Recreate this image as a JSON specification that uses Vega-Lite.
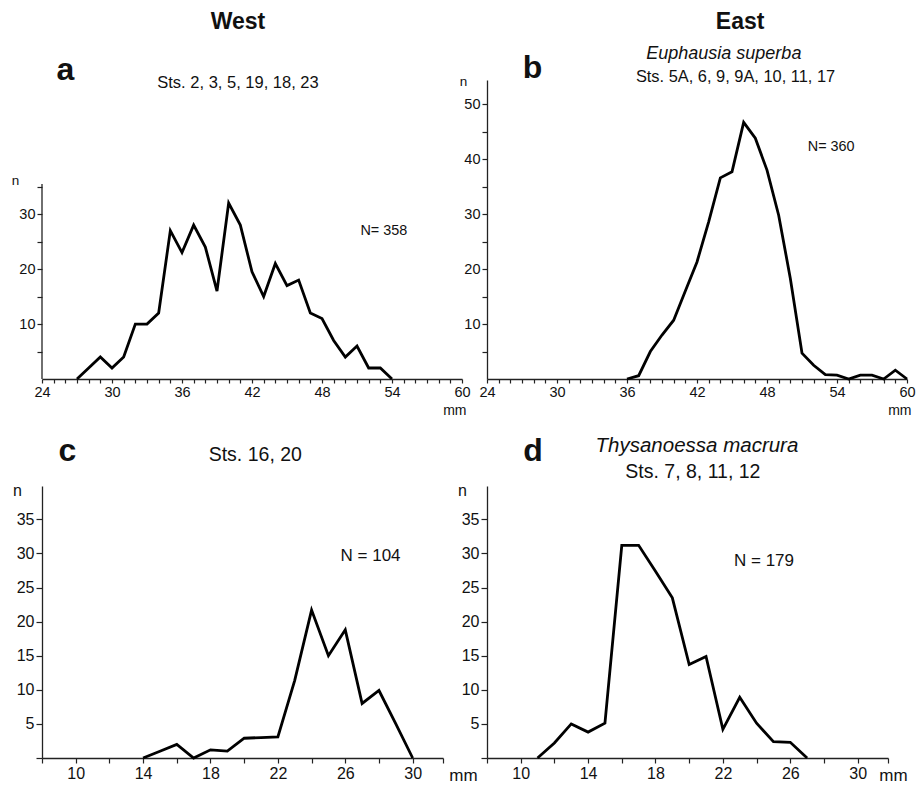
{
  "$schema": "https://vega.github.io/schema/vega-lite/v6.json",
  "autosize": {"type": "pad"},
  "padding": {"left": 11, "top": 10, "right": 0, "bottom": 0},
  "background": "white",
  "config": {
    "view": {"stroke": null},
    "axis": {
      "grid": false,
      "domainColor": "#222",
      "tickColor": "#222",
      "domainWidth": 1.3,
      "tickWidth": 1.2,
      "labelColor": "#111",
      "titleColor": "#111",
      "titleFontWeight": "normal",
      "labelFont": "Liberation Sans",
      "titleFont": "Liberation Sans"
    },
    "text": {"color": "#111", "font": "Liberation Sans"}
  },
  "datasets": {
    "a": [
      {"mm": 27, "n": 0}, {"mm": 28, "n": 2}, {"mm": 29, "n": 4}, {"mm": 30, "n": 2},
      {"mm": 31, "n": 4}, {"mm": 32, "n": 10}, {"mm": 33, "n": 10}, {"mm": 34, "n": 12},
      {"mm": 35, "n": 27}, {"mm": 36, "n": 23}, {"mm": 37, "n": 28}, {"mm": 38, "n": 24},
      {"mm": 39, "n": 16}, {"mm": 40, "n": 32}, {"mm": 41, "n": 28}, {"mm": 42, "n": 19.5},
      {"mm": 43, "n": 15}, {"mm": 44, "n": 21}, {"mm": 45, "n": 17}, {"mm": 46, "n": 18},
      {"mm": 47, "n": 12}, {"mm": 48, "n": 11}, {"mm": 49, "n": 7}, {"mm": 50, "n": 4},
      {"mm": 51, "n": 6}, {"mm": 52, "n": 2}, {"mm": 53, "n": 2}, {"mm": 54, "n": 0}
    ],
    "b": [
      {"mm": 36, "n": 0}, {"mm": 37, "n": 0.6}, {"mm": 38, "n": 5}, {"mm": 39, "n": 8},
      {"mm": 40, "n": 10.7}, {"mm": 41, "n": 16}, {"mm": 42, "n": 21.3}, {"mm": 43, "n": 28.6},
      {"mm": 44, "n": 36.6}, {"mm": 45, "n": 37.7}, {"mm": 46, "n": 46.7}, {"mm": 47, "n": 43.8},
      {"mm": 48, "n": 38}, {"mm": 49, "n": 29.8}, {"mm": 50, "n": 18.3}, {"mm": 51, "n": 4.7},
      {"mm": 52, "n": 2.5}, {"mm": 53, "n": 0.8}, {"mm": 54, "n": 0.7}, {"mm": 55, "n": 0},
      {"mm": 56, "n": 0.7}, {"mm": 57, "n": 0.7}, {"mm": 58, "n": 0}, {"mm": 59, "n": 1.6},
      {"mm": 60, "n": 0}
    ],
    "c": [
      {"mm": 14, "n": 0}, {"mm": 15, "n": 1}, {"mm": 16, "n": 2}, {"mm": 17, "n": 0},
      {"mm": 18, "n": 1.2}, {"mm": 19, "n": 1}, {"mm": 20, "n": 2.9}, {"mm": 21, "n": 3},
      {"mm": 22, "n": 3.1}, {"mm": 23, "n": 11.4}, {"mm": 24, "n": 21.7}, {"mm": 25, "n": 15},
      {"mm": 26, "n": 18.8}, {"mm": 27, "n": 8}, {"mm": 28, "n": 9.9}, {"mm": 29, "n": 5},
      {"mm": 30, "n": 0}
    ],
    "d": [
      {"mm": 11, "n": 0}, {"mm": 12, "n": 2.2}, {"mm": 13, "n": 5}, {"mm": 14, "n": 3.8},
      {"mm": 15, "n": 5.1}, {"mm": 16, "n": 31.2}, {"mm": 17, "n": 31.2}, {"mm": 18, "n": 27.4},
      {"mm": 19, "n": 23.5}, {"mm": 20, "n": 13.7}, {"mm": 21, "n": 14.9}, {"mm": 22, "n": 4.2},
      {"mm": 23, "n": 8.9}, {"mm": 24, "n": 5.1}, {"mm": 25, "n": 2.4}, {"mm": 26, "n": 2.3},
      {"mm": 27, "n": 0}
    ]
  },
  "bounds": "flush",
  "columns": 2,
  "spacing": {"row": 107, "column": 25},
  "concat": [
    {
      "width": 420,
      "height": 299,
      "data": {"name": "a"},
      "layer": [
        {
          "mark": {"type": "line", "color": "#000", "strokeWidth": 2.8, "strokeJoin": "miter"},
          "encoding": {
            "x": {"field": "mm", "type": "quantitative",
              "scale": {"domain": [24, 60], "nice": false, "zero": false},
              "axis": {"values": [24,25,26,27,28,29,30,31,32,33,34,35,36,37,38,39,40,41,42,43,44,45,46,47,48,49,50,51,52,53,54,55,56,57,58,59,60],
                "tickCount": 200, "format": "d",
                "labelExpr": "datum.value % 6 == 0 ? datum.label : ''",
                "labelOverlap": false, "labelBound": false,
                "tickSize": 4, "labelPadding": 2, "labelFontSize": 14.5, "labelFlush": false,
                "title": "mm", "titleFontSize": 14, "titleX": 424, "titleY": 31, "titleAlign": "right", "titleBaseline": "middle", "titleAnchor": null}},
            "y": {"field": "n", "type": "quantitative",
              "scale": {"domain": [0, 54.4], "nice": false},
              "axis": {"values": [5,10,15,20,25,30,35], "domain": false,
                "tickCount": 200, "format": "d",
                "labelExpr": "datum.value % 10 == 0 ? datum.label : ''",
                "labelOverlap": false, "labelBound": false,
                "tickSize": 5, "labelPadding": 2, "labelFontSize": 14.5,
                "title": "n", "titleAngle": 0, "titleFontSize": 13.5, "titleX": -27, "titleY": 100, "titleAlign": "center", "titleBaseline": "middle"}}
          }
        },
        {
          "data": {"values": [{}]},
          "mark": {"type": "rule", "color": "#222", "strokeWidth": 1.3},
          "encoding": {"x": {"datum": 24}, "y": {"datum": 0}, "y2": {"datum": 35.5}}
        },
        {
          "data": {"values": [{}]},
          "mark": {"type": "text", "text": "N= 358", "fontSize": 14.4},
          "encoding": {"x": {"datum": 53.3}, "y": {"datum": 26.9}}
        },
        {
          "data": {"values": [{}]},
          "mark": {"type": "text", "text": "West", "fontSize": 23, "fontWeight": "bold"},
          "encoding": {"x": {"datum": 40.8}, "y": {"datum": 65}}
        },
        {
          "data": {"values": [{}]},
          "mark": {"type": "text", "text": "a", "fontSize": 32, "fontWeight": "bold"},
          "encoding": {"x": {"datum": 26.0}, "y": {"datum": 56.3}}
        },
        {
          "data": {"values": [{}]},
          "mark": {"type": "text", "text": "Sts. 2, 3, 5, 19, 18, 23", "fontSize": 16.5},
          "encoding": {"x": {"datum": 40.8}, "y": {"datum": 53.8}}
        }
      ]
    },
    {
      "width": 420,
      "height": 299,
      "data": {"name": "b"},
      "layer": [
        {
          "mark": {"type": "line", "color": "#000", "strokeWidth": 2.8, "strokeJoin": "miter"},
          "encoding": {
            "x": {"field": "mm", "type": "quantitative",
              "scale": {"domain": [24, 60], "nice": false, "zero": false},
              "axis": {"values": [24,25,26,27,28,29,30,31,32,33,34,35,36,37,38,39,40,41,42,43,44,45,46,47,48,49,50,51,52,53,54,55,56,57,58,59,60],
                "tickCount": 200, "format": "d",
                "labelExpr": "datum.value % 6 == 0 ? datum.label : ''",
                "labelOverlap": false, "labelBound": false,
                "tickSize": 4, "labelPadding": 2, "labelFontSize": 14.5, "labelFlush": false,
                "title": "mm", "titleFontSize": 14, "titleX": 424, "titleY": 31, "titleAlign": "right", "titleBaseline": "middle", "titleAnchor": null}},
            "y": {"field": "n", "type": "quantitative",
              "scale": {"domain": [0, 54.4], "nice": false},
              "axis": {"values": [5,10,15,20,25,30,35,40,45,50],
                "tickCount": 200, "format": "d",
                "labelExpr": "datum.value % 10 == 0 ? datum.label : ''",
                "labelOverlap": false, "labelBound": false,
                "tickSize": 5, "labelPadding": 2, "labelFontSize": 14.5,
                "title": "n", "titleAngle": 0, "titleFontSize": 13.5, "titleX": -24, "titleY": 1, "titleAlign": "center", "titleBaseline": "middle"}}
          }
        },
        {
          "data": {"values": [{}]},
          "mark": {"type": "text", "text": "N= 360", "fontSize": 14.4},
          "encoding": {"x": {"datum": 53.5}, "y": {"datum": 42.3}}
        },
        {
          "data": {"values": [{}]},
          "mark": {"type": "text", "text": "East", "fontSize": 23, "fontWeight": "bold"},
          "encoding": {"x": {"datum": 45.7}, "y": {"datum": 65}}
        },
        {
          "data": {"values": [{}]},
          "mark": {"type": "text", "text": "b", "fontSize": 32, "fontWeight": "bold"},
          "encoding": {"x": {"datum": 27.9}, "y": {"datum": 56.5}}
        },
        {
          "data": {"values": [{}]},
          "mark": {"type": "text", "text": "Euphausia superba", "fontSize": 18, "fontStyle": "italic"},
          "encoding": {"x": {"datum": 44.3}, "y": {"datum": 59.2}}
        },
        {
          "data": {"values": [{}]},
          "mark": {"type": "text", "text": "Sts. 5A, 6, 9, 9A, 10, 11, 17", "fontSize": 16.4},
          "encoding": {"x": {"datum": 45.3}, "y": {"datum": 55}}
        }
      ]
    },
    {
      "width": 401,
      "height": 272,
      "data": {"name": "c"},
      "layer": [
        {
          "mark": {"type": "line", "color": "#000", "strokeWidth": 2.8, "strokeJoin": "miter"},
          "encoding": {
            "x": {"field": "mm", "type": "quantitative",
              "scale": {"domain": [8, 31.8], "nice": false, "zero": false},
              "axis": {"values": [8,10,12,14,16,18,20,22,24,26,28,30,31.8],
                "tickCount": 200, "format": "d",
                "labelExpr": "(datum.value >= 10 && datum.value <= 30 && (datum.value - 10) % 4 == 0) ? datum.label : ''",
                "labelOverlap": false, "labelBound": false,
                "tickSize": 5, "labelPadding": 2, "labelFontSize": 16, "labelFlush": false,
                "title": "mm", "titleFontSize": 17, "titleX": 421, "titleY": 17, "titleAlign": "center", "titleBaseline": "middle", "titleAnchor": null}},
            "y": {"field": "n", "type": "quantitative",
              "scale": {"domain": [0, 39.9], "nice": false},
              "axis": {"values": [0,5,10,15,20,25,30,35],
                "tickCount": 200, "format": "d",
                "labelExpr": "datum.value > 0 ? datum.label : ''",
                "labelOverlap": false, "labelBound": false,
                "tickSize": 6, "labelPadding": 2, "labelFontSize": 16,
                "title": "n", "titleAngle": 0, "titleFontSize": 16, "titleX": -25, "titleY": 4, "titleAlign": "center", "titleBaseline": "middle"}}
          }
        },
        {
          "data": {"values": [{}]},
          "mark": {"type": "text", "text": "N = 104", "fontSize": 17},
          "encoding": {"x": {"datum": 27.5}, "y": {"datum": 29.6}}
        },
        {
          "data": {"values": [{}]},
          "mark": {"type": "text", "text": "c", "fontSize": 32, "fontWeight": "bold"},
          "encoding": {"x": {"datum": 9.5}, "y": {"datum": 45.0}}
        },
        {
          "data": {"values": [{}]},
          "mark": {"type": "text", "text": "Sts. 16, 20", "fontSize": 19.5},
          "encoding": {"x": {"datum": 20.66}, "y": {"datum": 44.4}}
        }
      ]
    },
    {
      "width": 401,
      "height": 272,
      "data": {"name": "d"},
      "layer": [
        {
          "mark": {"type": "line", "color": "#000", "strokeWidth": 2.8, "strokeJoin": "miter"},
          "encoding": {
            "x": {"field": "mm", "type": "quantitative",
              "scale": {"domain": [8, 31.8], "nice": false, "zero": false},
              "axis": {"values": [8,10,12,14,16,18,20,22,24,26,28,30,31.8],
                "tickCount": 200, "format": "d",
                "labelExpr": "(datum.value >= 10 && datum.value <= 30 && (datum.value - 10) % 4 == 0) ? datum.label : ''",
                "labelOverlap": false, "labelBound": false,
                "tickSize": 5, "labelPadding": 2, "labelFontSize": 16, "labelFlush": false,
                "title": "mm", "titleFontSize": 17, "titleX": 406, "titleY": 17, "titleAlign": "center", "titleBaseline": "middle", "titleAnchor": null}},
            "y": {"field": "n", "type": "quantitative",
              "scale": {"domain": [0, 39.9], "nice": false},
              "axis": {"values": [0,5,10,15,20,25,30,35],
                "tickCount": 200, "format": "d",
                "labelExpr": "datum.value > 0 ? datum.label : ''",
                "labelOverlap": false, "labelBound": false,
                "tickSize": 6, "labelPadding": 2, "labelFontSize": 16,
                "title": "n", "titleAngle": 0, "titleFontSize": 16, "titleX": -25, "titleY": 4, "titleAlign": "center", "titleBaseline": "middle"}}
          }
        },
        {
          "data": {"values": [{}]},
          "mark": {"type": "text", "text": "N = 179", "fontSize": 17},
          "encoding": {"x": {"datum": 24.44}, "y": {"datum": 28.85}}
        },
        {
          "data": {"values": [{}]},
          "mark": {"type": "text", "text": "d", "fontSize": 32, "fontWeight": "bold"},
          "encoding": {"x": {"datum": 10.73}, "y": {"datum": 45.0}}
        },
        {
          "data": {"values": [{}]},
          "mark": {"type": "text", "text": "Thysanoessa macrura", "fontSize": 20.5, "fontStyle": "italic"},
          "encoding": {"x": {"datum": 20.46}, "y": {"datum": 45.7}}
        },
        {
          "data": {"values": [{}]},
          "mark": {"type": "text", "text": "Sts. 7, 8, 11, 12", "fontSize": 19.5},
          "encoding": {"x": {"datum": 20.22}, "y": {"datum": 41.9}}
        }
      ]
    }
  ]
}
